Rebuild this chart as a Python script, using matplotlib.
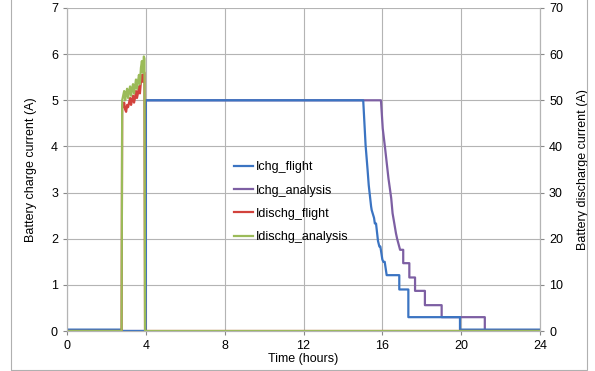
import matplotlib

matplotlib.use("Agg")
import matplotlib.pyplot as plt
from matplotlib.patches import Rectangle

plt.rcParams["font.family"] = ["Liberation Sans", "DejaVu Sans"]

# charge current (A), primary axis
chg_flight_t = [0, 2.77, 2.77, 4.0, 4.0, 15.03, 15.15, 15.25, 15.31, 15.43, 15.46,
                15.58, 15.62, 15.68, 15.78, 15.85, 15.9, 16.0, 16.05, 16.12, 16.22,
                16.86, 16.86, 17.32, 17.32, 19.94, 19.94, 24]
chg_flight_v = [0.03, 0.03, 0.0, 0.0, 5.0, 5.0, 4.03, 3.5, 3.16, 2.7, 2.62,
                2.45, 2.33, 2.33, 1.95, 1.83, 1.83, 1.55, 1.5, 1.5, 1.21,
                1.21, 0.9, 0.9, 0.3, 0.3, 0.03, 0.03]

chg_analysis_t = [0, 4.0, 4.0, 15.93, 16.02, 16.14, 16.31, 16.45, 16.52, 16.6, 16.69,
                  16.75, 16.9, 17.06, 17.06, 17.37, 17.37, 17.66, 17.66, 18.16, 18.16,
                  19.01, 19.01, 21.2, 21.2, 24]
chg_analysis_v = [0, 0, 5.0, 5.0, 4.39, 3.96, 3.31, 2.88, 2.55, 2.35, 2.12,
                  2.0, 1.76, 1.76, 1.47, 1.47, 1.16, 1.16, 0.87, 0.87, 0.56,
                  0.56, 0.3, 0.3, 0.0, 0.0]

# discharge current (A), secondary axis
dis_t = [0, 2.77, 2.80, 2.85, 2.90, 2.95, 3.00, 3.05, 3.10, 3.15, 3.20, 3.25, 3.30,
         3.35, 3.40, 3.45, 3.50, 3.55, 3.60, 3.65, 3.70, 3.75, 3.80, 3.85, 3.90,
         3.93, 3.96, 24]
dis_flight_v = [0, 0, 49, 48.5, 49.5, 48, 47.5, 49, 48.5, 49.5, 50.5, 49, 50,
                51, 49.5, 50.5, 52, 50.5, 51.5, 53, 51.5, 54, 55.5, 54, 56,
                56, 0, 0]
dis_analysis_v = [0, 0, 50, 51, 52, 50, 51.5, 52.5, 50.5, 52, 53, 51, 52.5,
                  53.5, 51.5, 53, 54.5, 52.5, 54, 55.5, 53.5, 57, 58.5, 56, 59.5,
                  59, 0, 0]

x_ticks = [0, 4, 8, 12, 16, 20, 24]

fig = plt.figure(figsize=(5.95, 3.71), dpi=100)
fig.patches.append(Rectangle((11 / 595, 0.003), 576 / 595, 1.2, transform=fig.transFigure,
                             fill=False, edgecolor="#b0b0b0", linewidth=0.8))
ax = fig.add_axes([67 / 595, 1 - 331 / 371, 473 / 595, 323 / 371])
ax2 = ax.twinx()

grid_c = "#b4b4b4"
ax.set_xlim(0, 24)
ax.set_ylim(0, 7)
ax2.set_ylim(0, 70)
ax.set_xticks(x_ticks)
ax.set_yticks(range(0, 8))
ax2.set_yticks(range(0, 71, 10))
ax.grid(True, color=grid_c, linewidth=0.8)
for a in (ax, ax2):
    for s in a.spines.values():
        s.set_color(grid_c)
    a.tick_params(colors="#888888", labelcolor="black", labelsize=9, length=3)
ax.spines["top"].set_visible(False)
ax2.spines["top"].set_visible(False)

l1, = ax.plot(chg_flight_t, chg_flight_v, color="#3b74c2", linewidth=1.6, zorder=4,
              label="Ichg_flight")
l2, = ax.plot(chg_analysis_t, chg_analysis_v, color="#7d5fa3", linewidth=1.6, zorder=3,
              label="Ichg_analysis")
l3, = ax2.plot(dis_t, dis_flight_v, color="#d2423c", linewidth=1.6, label="Idischg_flight")
l4, = ax2.plot(dis_t, dis_analysis_v, color="#9bbb59", linewidth=1.6,
               label="Idischg_analysis")

ax.set_xlabel("Time (hours)", fontsize=9, labelpad=1)
ax.set_ylabel("Battery charge current (A)", fontsize=9, labelpad=10)
ax2.set_ylabel("Battery discharge current (A)", fontsize=9, labelpad=10)

ax2.legend(handles=[l1, l2, l3, l4], loc="upper left", bbox_to_anchor=(0.33, 0.56),
           frameon=False, fontsize=9, handlelength=1.5, handletextpad=0.2,
           labelspacing=0.9)

fig.savefig("out.png", dpi=100)
